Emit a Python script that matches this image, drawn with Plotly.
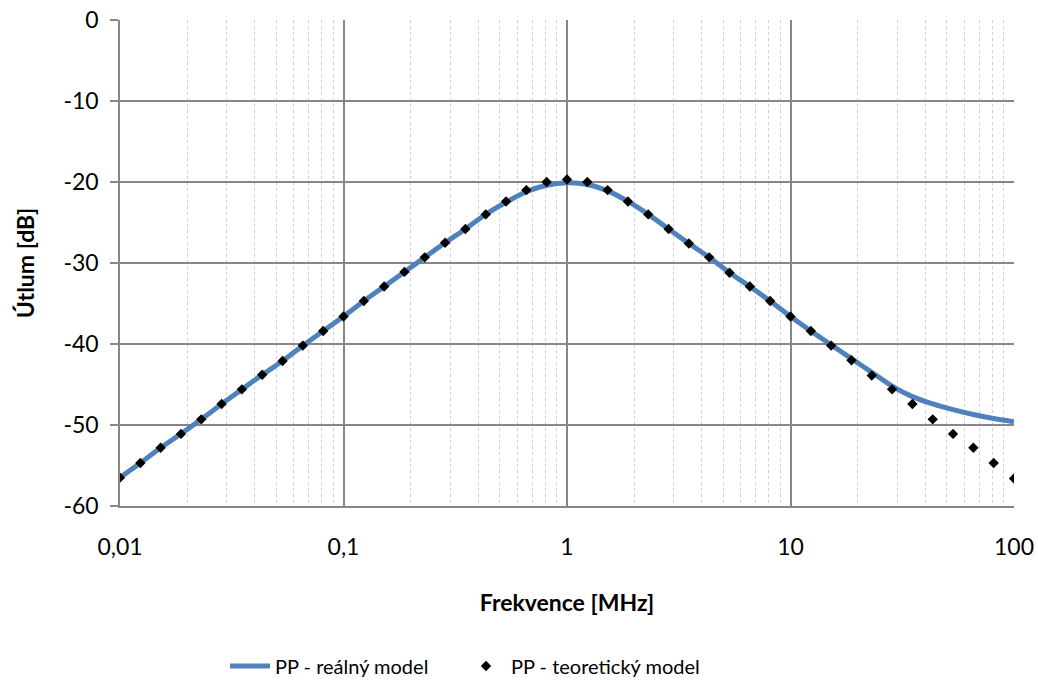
import plotly.graph_objects as go

# Frequency points [MHz] (11 per decade, 0.01 .. 100)
freq = [0.01, 0.01233, 0.01520, 0.01874, 0.02310, 0.02848, 0.03511, 0.04329, 0.05337, 0.06579, 0.08111, 0.1,
        0.1233, 0.1520, 0.1874, 0.2310, 0.2848, 0.3511, 0.4329, 0.5337, 0.6579, 0.8111, 1.0,
        1.233, 1.520, 1.874, 2.310, 2.848, 3.511, 4.329, 5.337, 6.579, 8.111, 10.0,
        12.33, 15.20, 18.74, 23.10, 28.48, 35.11, 43.29, 53.37, 65.79, 81.11, 100.0]

# PP - teoretický model [dB]
theory = [-56.5, -54.7, -52.8, -51.1, -49.3, -47.4, -45.6, -43.8, -42.1, -40.2, -38.4, -36.6,
          -34.7, -32.9, -31.1, -29.3, -27.5, -25.8, -24.0, -22.4, -21.0, -20.0, -19.7,
          -20.0, -21.0, -22.4, -24.0, -25.8, -27.6, -29.3, -31.2, -32.9, -34.7, -36.6,
          -38.4, -40.2, -42.0, -43.9, -45.6, -47.4, -49.3, -51.1, -52.8, -54.7, -56.6]

# PP - reálný model [dB]
real = [-56.5, -54.7, -52.8, -51.1, -49.3, -47.4, -45.6, -43.8, -42.1, -40.2, -38.4, -36.6,
        -34.7, -32.9, -31.1, -29.3, -27.5, -25.8, -24.0, -22.5, -21.2, -20.4, -20.1,
        -20.3, -21.1, -22.4, -24.0, -25.8, -27.6, -29.3, -31.2, -32.9, -34.7, -36.6,
        -38.4, -40.1, -41.8, -43.5, -45.2, -46.5, -47.4, -48.1, -48.7, -49.2, -49.6]

x_tickvals = [0.01, 0.1, 1, 10, 100]
x_ticktext = ["0,01", "0,1", "1", "10", "100"]
x_minorvals = [m * d for d in [0.01, 0.1, 1, 10] for m in [2, 3, 4, 5, 6, 7, 8, 9]]
y_tickvals = [0, -10, -20, -30, -40, -50, -60]
y_ticktext = ["0", "-10", "-20", "-30", "-40", "-50", "-60"]

FONT = "Lato"
GRID = "#878787"

fig = go.Figure()
fig.add_trace(go.Scatter(
    x=freq, y=real, mode="lines", name="PP - reálný model", legend="legend",
    line=dict(color="#4f81bd", width=5, shape="spline", smoothing=0.6),
))
fig.add_trace(go.Scatter(
    x=freq, y=theory, mode="markers", name="PP - teoretický model", legend="legend2",
    marker=dict(symbol="diamond", color="black", size=8),
))

legend_common = dict(orientation="h", xanchor="left", yref="container",
                     y=(684 - 666) / 684, yanchor="middle",
                     font=dict(family=FONT, size=20), itemwidth=40,
                     bgcolor="rgba(0,0,0,0)")

fig.update_layout(
    width=1038, height=684,
    margin=dict(l=120, r=24, t=20, b=178),
    paper_bgcolor="white", plot_bgcolor="white",
    font=dict(family=FONT, size=23, color="black"),
    showlegend=True,
    legend=dict(x=(225 - 120) / 894, **legend_common),
    legend2=dict(x=(461 - 120) / 894, **legend_common),
)

fig.update_xaxes(
    type="log", range=[-2, 2], automargin=False,
    tickvals=x_tickvals, ticktext=x_ticktext,
    showgrid=True, gridcolor=GRID, gridwidth=1.5,
    minor=dict(tickvals=x_minorvals, showgrid=True, gridcolor="#d0d0d0",
               griddash="dot", gridwidth=1, ticks=""),
    showline=True, linecolor=GRID, linewidth=1.5,
    ticks="", ticklabelstandoff=20, zeroline=False,
    tickfont=dict(size=23),
    title=dict(text="<b>Frekvence [MHz]</b>", font=dict(family=FONT, size=23), standoff=36),
)
fig.update_yaxes(
    range=[-60, 0], automargin=False,
    tickvals=y_tickvals, ticktext=y_ticktext,
    showgrid=True, gridcolor=GRID, gridwidth=1.5,
    showline=True, linecolor=GRID, linewidth=1.5,
    ticks="outside", ticklen=8, tickcolor=GRID, tickwidth=1.5,
    ticklabelstandoff=7, zeroline=False,
    tickfont=dict(size=23),
    title=dict(text="<b>Útlum [dB]</b>", font=dict(family=FONT, size=23), standoff=22),
)

fig.write_html("out.html", config={"displayModeBar": False},
               post_script="document.body.style.margin='0';")
